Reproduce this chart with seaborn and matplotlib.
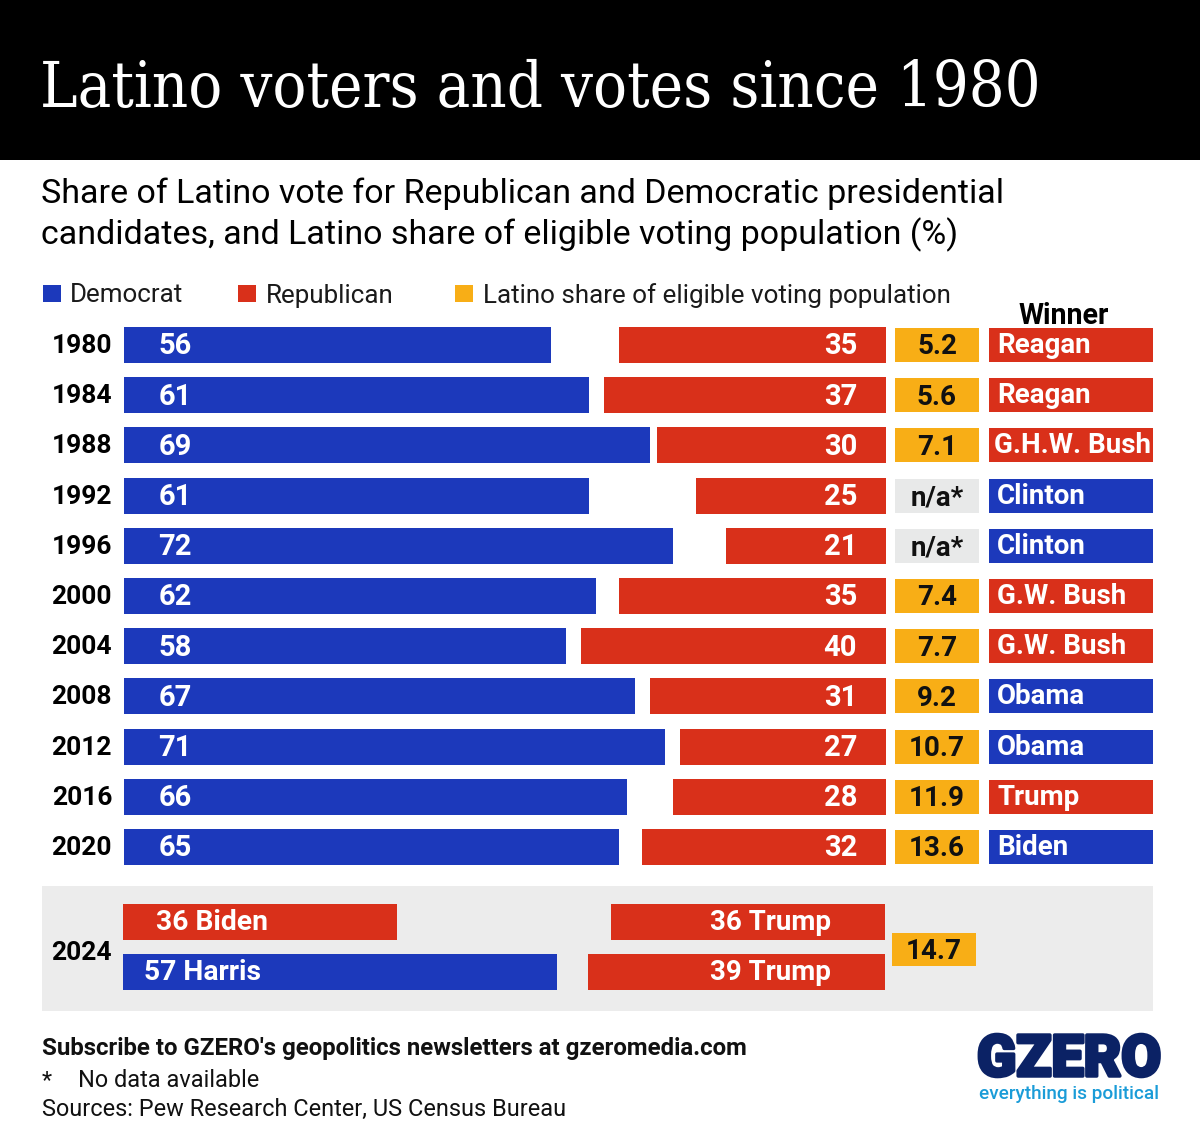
import pandas as pd
import numpy as np
import matplotlib
matplotlib.use('Agg')
import matplotlib.pyplot as plt
import matplotlib.patheffects as pe
from matplotlib.patches import Rectangle
from matplotlib.transforms import ScaledTranslation
import seaborn as sns

years=['1980','1984','1988','1992','1996','2000','2004','2008','2012','2016','2020']
dem=[56,61,69,61,72,62,58,67,71,66,65]
rep=[35,37,30,25,21,35,40,31,27,28,32]
share=['5.2','5.6','7.1','n/a*','n/a*','7.4','7.7','9.2','10.7','11.9','13.6']
winners=['Reagan','Reagan','G.H.W. Bush','Clinton','Clinton','G.W. Bush','G.W. Bush','Obama','Obama','Trump','Biden']
winner_party=['R','R','R','D','D','R','R','D','D','R','D']

polls_2024=['Biden','Harris']
dem_2024=[36,57]
dem_2024_party=['R','D']
rep_2024=[36,39]
rep_2024_names=['Trump','Trump']
share_2024='14.7'

BLUE='#1c39bb'
RED='#d9301a'
GOLD='#f8ae16'
GREY='#e8e9e9'
PANEL='#ececec'
W,H=1200,1132

sns.set_theme(style='white')
plt.rcParams['font.family']=['Roboto','DejaVu Sans']
plt.rcParams['savefig.facecolor']='white'

fig=plt.figure(figsize=(W/100,H/100),dpi=100,facecolor='white')

def px_axes(x0,y0,x1,y1):
    # axes from pixel box, y measured from the top of the image
    ax=fig.add_axes([x0/W,1-y1/H,(x1-x0)/W,(y1-y0)/H])
    ax.patch.set_alpha(0)
    sns.despine(ax=ax,left=True,bottom=True)
    return ax

def px_text(x,y,s,**kw):
    fig.text(x/W,1-y/H,s,**kw)

def clean(ax,n,keep_labels=False):
    ax.set_ylim(n-0.5,-0.5)
    ax.set_xlabel('')
    ax.set_ylabel('')
    ax.set_xticks([])
    ax.tick_params(axis='y',length=0,pad=8.6,labelleft=keep_labels)

# header and 2024 panel, kept under the axes
fig.add_artist(Rectangle((0,1-160/H),1,160/H,transform=fig.transFigure,color='black',lw=0,zorder=-2))
fig.add_artist(Rectangle((42/W,1-1011/H),1111/W,125/H,transform=fig.transFigure,color=PANEL,lw=0,zorder=-2))
px_text(40,107,'Latino voters and votes since 1980',color='white',fontsize=45.3,family='DejaVu Serif',stretch='condensed',va='baseline')
px_text(41,203,'Share of Latino vote for Republican and Democratic presidential',color='black',fontsize=24.45,va='baseline')
px_text(41,244,'candidates, and Latino share of eligible voting population (%)',color='black',fontsize=24.45,va='baseline')

# legend
for x,lab,c,tx in [(43,'Democrat',BLUE,70),(238,'Republican',RED,266),(455,'Latino share of eligible voting population',GOLD,483)]:
    fig.add_artist(Rectangle((x/W,1-302/H),18/W,17/H,transform=fig.transFigure,color=c,lw=0,zorder=-2))
    px_text(tx,302.5,lab,color='#1a1a1a',fontsize=18.75,va='baseline')
px_text(1064,324,'Winner',color='black',fontsize=20.6,fontweight='bold',ha='center',va='baseline')

# main rows
df=pd.DataFrame({'year':years,'dem':dem,'rep':rep,'share':share,'winner':winners,'party':winner_party,'cell':1})
df['known']=df['share']!='n/a*'
top,bottom=319.9,872.1

ax_dem=px_axes(124,top,886,bottom)
sns.barplot(data=df,x='dem',y='year',color=BLUE,saturation=1,width=0.717,linewidth=0,ax=ax_dem)
ax_dem.set_xlim(0,100)
clean(ax_dem,len(years),keep_labels=True)
for lab in ax_dem.get_yticklabels():
    lab.set_fontweight('bold')
    lab.set_fontsize(19)
    lab.set_color('black')
    lab.set_transform(lab.get_transform()+ScaledTranslation(0,1.5/100,fig.dpi_scale_trans))
for i,v in enumerate(dem):
    ax_dem.text(4.5,i-0.03,str(v),color='white',fontsize=21,fontweight='bold',ha='left',va='center_baseline')

ax_rep=px_axes(124,top,886,bottom)
sns.barplot(data=df,x='rep',y='year',color=RED,saturation=1,width=0.717,linewidth=0,ax=ax_rep)
ax_rep.set_xlim(100,0)
clean(ax_rep,len(years))
for i,v in enumerate(rep):
    ax_rep.text(3.8,i-0.03,str(v),color='white',fontsize=21,fontweight='bold',ha='right',va='center_baseline')

ax_share=px_axes(895,top,979,bottom)
sns.barplot(data=df,x='cell',y='year',hue='known',palette={True:GOLD,False:GREY},dodge=False,legend=False,
            saturation=1,width=0.68,linewidth=0,ax=ax_share)
ax_share.set_xlim(0,1)
clean(ax_share,len(years))
for i,v in enumerate(share):
    ax_share.text(0.5,i-0.02,v,color='#111111',fontsize=20,fontweight='bold',ha='center',va='center_baseline')

ax_win=px_axes(989,top,1153,bottom)
sns.barplot(data=df,x='cell',y='year',hue='party',palette={'R':RED,'D':BLUE},dodge=False,legend=False,
            saturation=1,width=0.68,linewidth=0,ax=ax_win)
ax_win.set_xlim(0,1)
clean(ax_win,len(years))
for i,v in enumerate(winners):
    x=0.03 if len(v)>10 else 0.05
    ax_win.text(x,i-0.05,v,color='white',fontsize=20,fontweight='bold',ha='left',va='center_baseline')

# 2024 panel
df24=pd.DataFrame({'poll':polls_2024,'dem':dem_2024,'rep':rep_2024,'party':dem_2024_party,'cell':1})
ax_d24=px_axes(123,897,885,997)
sns.barplot(data=df24,x='dem',y='poll',hue='party',palette={'R':RED,'D':BLUE},dodge=False,legend=False,
            saturation=1,width=0.72,linewidth=0,ax=ax_d24)
ax_d24.set_xlim(0,100)
clean(ax_d24,2)
ax_d24.text(4.3,-0.04,f'{dem_2024[0]} {polls_2024[0]}',color='white',fontsize=20.3,fontweight='bold',ha='left',va='center_baseline')
ax_d24.text(2.8,0.96,f'{dem_2024[1]} {polls_2024[1]}',color='white',fontsize=20.3,fontweight='bold',ha='left',va='center_baseline')

ax_r24=px_axes(123,897,885,997)
sns.barplot(data=df24,x='rep',y='poll',color=RED,saturation=1,width=0.72,linewidth=0,ax=ax_r24)
ax_r24.set_xlim(100,0)
clean(ax_r24,2)
for i,(v,n) in enumerate(zip(rep_2024,rep_2024_names)):
    ax_r24.text(7.1,i-0.04,f'{v} {n}',color='white',fontsize=20,fontweight='bold',ha='right',va='center_baseline')

ax_s24=px_axes(892,933,976,966)
sns.barplot(x=[1],y=['2024'],color=GOLD,saturation=1,width=1,linewidth=0,ax=ax_s24)
ax_s24.set_xlim(0,1)
clean(ax_s24,1)
ax_s24.text(0.5,-0.03,share_2024,color='#111111',fontsize=20,fontweight='bold',ha='center',va='center_baseline')
px_text(112,950,'2024',color='black',fontsize=19,fontweight='bold',ha='right',va='center_baseline')

# footer
px_text(42,1055,"Subscribe to GZERO's geopolitics newsletters at gzeromedia.com",color='#111111',fontsize=17.3,fontweight='bold',va='baseline')
px_text(42,1087,'*',color='#111111',fontsize=16.9,va='baseline')
px_text(78,1087,'No data available',color='#111111',fontsize=16.9,va='baseline')
px_text(42,1116,'Sources: Pew Research Center, US Census Bureau',color='#111111',fontsize=16.9,va='baseline')

# logo
logo=fig.text(1069/W,1-1076/H,'GZERO',color='#0b2265',fontsize=41.5,fontweight='black',ha='center',va='baseline')
logo.set_path_effects([pe.withStroke(linewidth=2.5,foreground='#0b2265')])
px_text(1069,1099,'everything is political',color='#1a9cd8',fontsize=13.7,fontweight='medium',ha='center',va='baseline')

plt.savefig('out.png',dpi=100)
